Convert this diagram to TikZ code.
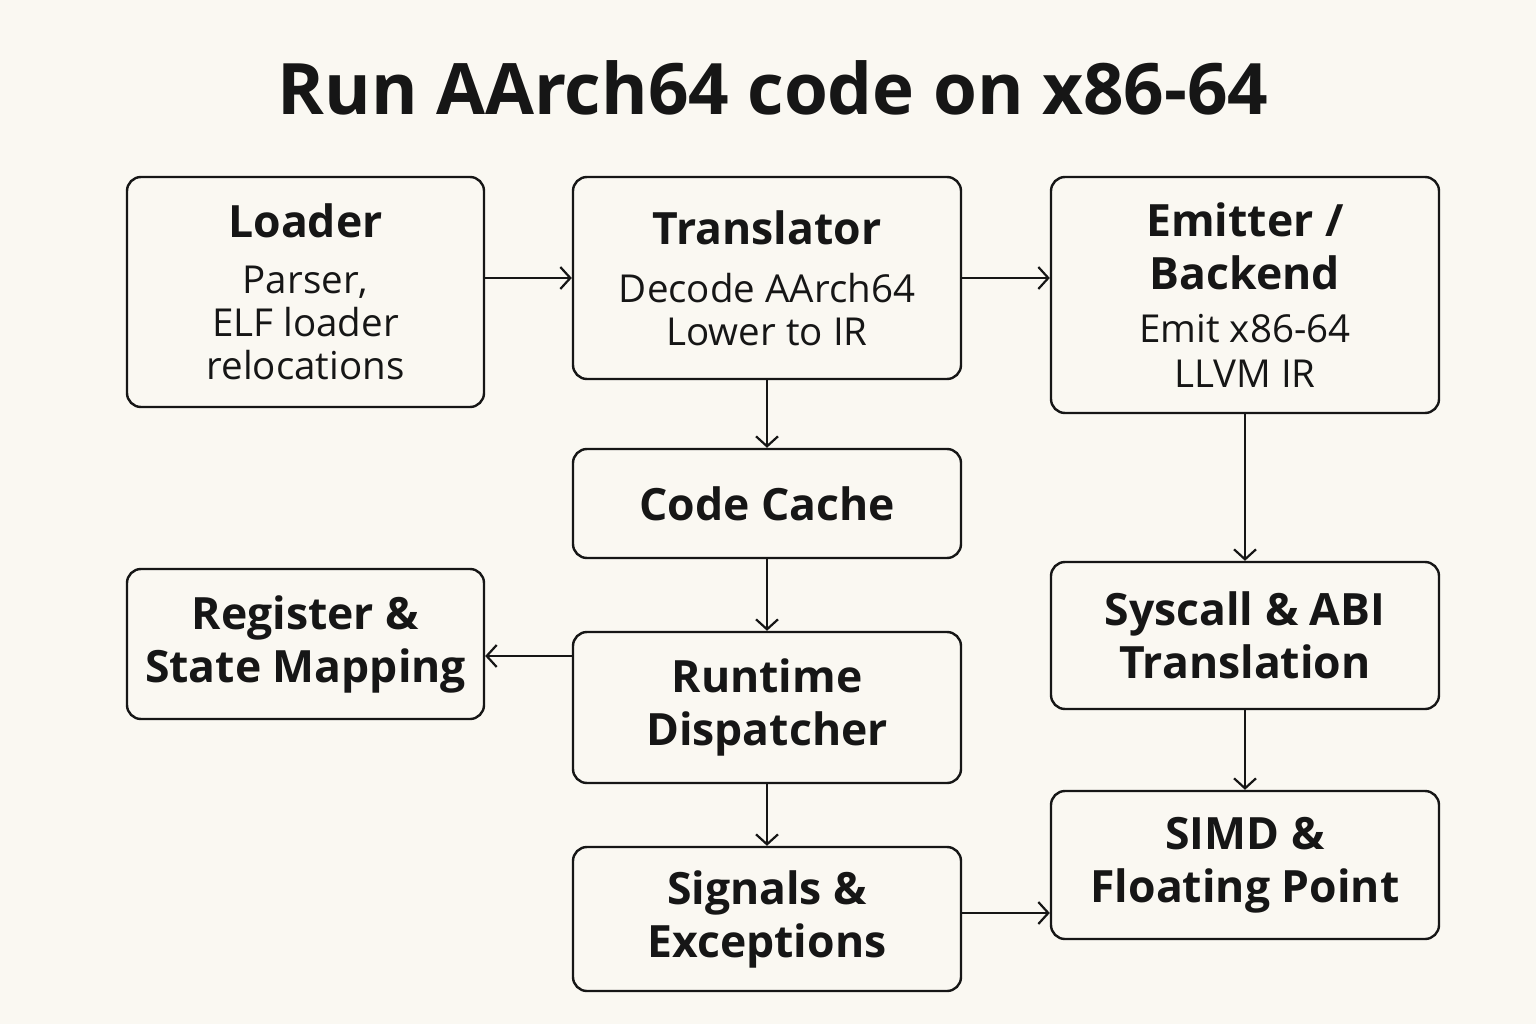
\documentclass[tikz,border=0pt]{standalone}
\usepackage{fontspec}
\setmainfont{Open Sans}
\usetikzlibrary{arrows.meta}
\definecolor{bg}{HTML}{FAF8F2}
\definecolor{ink}{HTML}{161616}
\tikzset{
  box/.style={draw=ink, line width=2.4pt, rounded corners=14pt, fill=bg, inner sep=0pt, align=center, text=ink},
  arr/.style={draw=ink, line width=2.2pt, -{Straight Barb[length=10pt,width=22pt,line width=2.2pt]}},
  ttl/.style={font=\fontsize{44.5}{53}\selectfont\bfseries},
}
\newcommand{\subf}{\fontsize{38.5}{43}\selectfont\mdseries}
\begin{document}
\begin{tikzpicture}[x=1pt,y=-1pt]
\useasboundingbox[fill=bg] (0,0) rectangle (1536,1024);
\node[text=ink, font=\fontsize{71}{80}\selectfont\bfseries] (title) at (773,88) {Run AArch64 code on x86-64};

\node[box, minimum width=357pt, minimum height=230pt, ttl] (loader) at (305.5,292)
  {Loader\\[3pt]\subf Parser,\\[-10pt]\subf ELF loader\\[-10pt]\subf relocations};
\node[box, minimum width=388pt, minimum height=202pt, ttl] (trans) at (767,278)
  {Translator\\[5pt]\subf Decode AArch64\\[-10pt]\subf Lower to IR};
\node[box, minimum width=388pt, minimum height=236pt, ttl] (emit) at (1245,295)
  {Emitter /\\Backend\\[0pt]\subf Emit x86-64\\[-8pt]\subf LLVM IR};
\node[box, minimum width=388pt, minimum height=109pt, ttl] (cache) at (767,503.5) {Code Cache};
\node[box, minimum width=357pt, minimum height=150pt, ttl] (reg) at (305.5,644) {Register \&\\State Mapping};
\node[box, minimum width=388pt, minimum height=151pt, ttl] (run) at (767,707.5) {Runtime\\Dispatcher};
\node[box, minimum width=388pt, minimum height=147pt, ttl] (sys) at (1245,635.5) {Syscall \& ABI\\Translation};
\node[box, minimum width=388pt, minimum height=144pt, ttl] (sig) at (767,919) {Signals \&\\Exceptions};
\node[box, minimum width=388pt, minimum height=148pt, ttl] (simd) at (1245,865) {SIMD \&\\Floating Point};

\coordinate (yr) at (0,656);
\coordinate (ys) at (0,913);
\draw[arr] (loader.east |- trans.west) -- (trans.west);
\draw[arr] (trans.east) -- (emit.west |- trans.east);
\draw[arr] (trans.south) -- (cache.north);
\draw[arr] (cache.south) -- (run.north);
\draw[arr] (run.west |- yr) -- (reg.east |- yr);
\draw[arr] (run.south) -- (sig.north);
\draw[arr] (emit.south) -- (sys.north);
\draw[arr] (sys.south) -- (simd.north);
\draw[arr] (sig.east |- ys) -- (simd.west |- ys);
\end{tikzpicture}
\end{document}
